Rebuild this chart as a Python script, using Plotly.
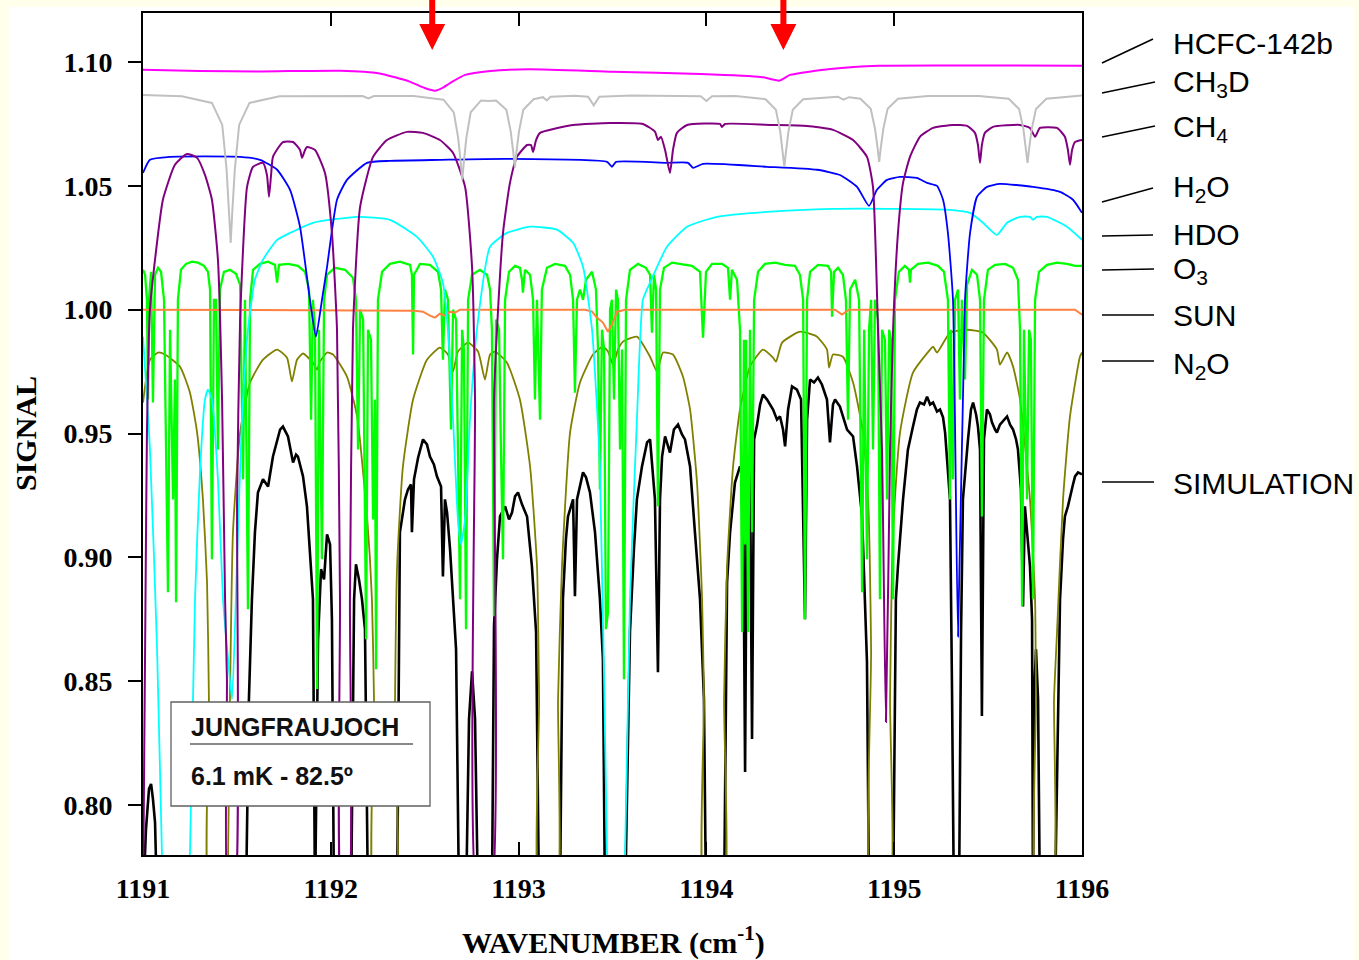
import plotly.graph_objects as go

# ---------------- data (wavenumber cm-1, signal) ----------------
X_TICKS = [1191, 1192, 1193, 1194, 1195, 1196]
Y_TICKS = [0.80, 0.85, 0.90, 0.95, 1.00, 1.05, 1.10]
ARROW_WN = [1192.54, 1194.41]

HCFC142B = [(1191.000,1.0969),(1191.300,1.0964),(1191.630,1.0962),(1192.050,1.0965),(1192.260,1.0954),
            (1192.420,1.0921),(1192.500,1.0895),(1192.555,1.0884),(1192.600,1.0898),(1192.635,1.0915),
            (1192.715,1.0948),(1192.850,1.0964),(1193.060,1.0971),(1193.500,1.0961),(1193.970,1.0952),
            (1194.290,1.0940),(1194.390,1.0925),(1194.445,1.0948),(1194.660,1.0972),(1194.920,1.0985),
            (1195.500,1.0986),(1196.000,1.0985)]

CH3D = [(1191.000,1.0867),(1191.207,1.0862),(1191.367,1.0835),(1191.422,1.0746),(1191.445,1.0567),
        (1191.459,1.0389),(1191.467,1.0270),(1191.475,1.0389),(1191.489,1.0567),(1191.512,1.0746),
        (1191.567,1.0835),(1191.727,1.0862),(1192.170,1.0863),(1192.200,1.0853),(1192.230,1.0863),
        (1192.440,1.0863),(1192.600,1.0848),(1192.655,1.0797),(1192.678,1.0695),(1192.692,1.0593),
        (1192.700,1.0525),(1192.708,1.0593),(1192.722,1.0695),(1192.745,1.0797),(1192.800,1.0845),
        (1192.840,1.0843),(1192.880,1.0845),(1192.935,1.0807),(1192.958,1.0720),(1192.972,1.0633),
        (1192.980,1.0575),(1192.988,1.0633),(1193.002,1.0720),(1193.025,1.0807),(1193.080,1.0850),
        (1193.130,1.0858),(1193.150,1.0845),(1193.170,1.0860),(1193.300,1.0864),(1193.370,1.0860),
        (1193.400,1.0825),(1193.430,1.0860),(1193.600,1.0865),(1193.970,1.0862),(1194.000,1.0843),
        (1194.030,1.0862),(1194.155,1.0863),(1194.315,1.0850),(1194.370,1.0807),(1194.393,1.0720),
        (1194.407,1.0633),(1194.415,1.0577),(1194.423,1.0633),(1194.437,1.0720),(1194.460,1.0807),
        (1194.515,1.0850),(1194.700,1.0860),(1194.730,1.0848),(1194.760,1.0858),(1194.820,1.0852),
        (1194.875,1.0811),(1194.898,1.0730),(1194.912,1.0650),(1194.920,1.0597),(1194.928,1.0650),
        (1194.942,1.0730),(1194.965,1.0811),(1195.020,1.0852),(1195.180,1.0863),(1195.450,1.0863),
        (1195.610,1.0852),(1195.665,1.0810),(1195.688,1.0729),(1195.702,1.0648),(1195.710,1.0593),
        (1195.718,1.0648),(1195.732,1.0729),(1195.755,1.0810),(1195.810,1.0852),(1195.970,1.0863),
        (1196.000,1.0865)]

CH4 = [(1191.000,0.7600),(1191.013,0.8800),(1191.021,0.9500),(1191.037,1.0000),(1191.064,1.0202),
       (1191.106,1.0444),(1191.170,1.0585),(1191.234,1.0629),(1191.288,1.0613),(1191.330,1.0544),
       (1191.367,1.0444),(1191.399,1.0202),(1191.421,0.9637),(1191.437,0.8831),(1191.447,0.8508),
       (1191.455,0.7600),(1191.485,0.7600),(1191.501,0.9234),(1191.517,0.9960),(1191.554,1.0496),
       (1191.586,1.0577),(1191.639,1.0593),(1191.660,1.0544),(1191.671,1.0456),(1191.682,1.0544),
       (1191.692,1.0617),(1191.745,1.0677),(1191.799,1.0677),(1191.836,1.0645),(1191.847,1.0613),
       (1191.863,1.0645),(1191.873,1.0657),(1191.916,1.0645),(1191.969,1.0552),(1192.006,1.0310),
       (1192.033,0.9919),(1192.049,0.8831),(1192.060,0.7600),(1192.092,0.7600),(1192.102,0.8831),
       (1192.118,0.9919),(1192.156,1.0415),(1192.225,1.0617),(1192.299,1.0685),(1192.406,1.0718),
       (1192.491,1.0714),(1192.581,1.0685),(1192.651,1.0633),(1192.715,1.0496),(1192.752,1.0173),
       (1192.768,0.9637),(1192.784,0.7600),(1192.848,0.7600),(1192.869,0.9637),(1192.885,0.9919),
       (1192.917,1.0310),(1192.954,1.0512),(1192.991,1.0617),(1193.045,1.0665),(1193.066,1.0665),
       (1193.077,1.0637),(1193.093,1.0685),(1193.114,1.0714),(1193.290,1.0746),(1193.487,1.0754),
       (1193.662,1.0750),(1193.726,1.0719),(1193.742,1.0685),(1193.758,1.0698),(1193.780,1.0645),
       (1193.806,1.0552),(1193.822,1.0645),(1193.843,1.0714),(1193.897,1.0746),(1194.072,1.0750),
       (1194.083,1.0738),(1194.099,1.0750),(1194.339,1.0746),(1194.536,1.0742),(1194.674,1.0726),
       (1194.781,1.0685),(1194.855,1.0617),(1194.887,1.0496),(1194.914,0.9919),(1194.935,0.9435),
       (1194.956,0.8335),(1194.978,0.9435),(1194.994,0.9919),(1195.020,1.0310),(1195.047,1.0512),
       (1195.084,1.0617),(1195.137,1.0698),(1195.207,1.0734),(1195.313,1.0746),(1195.388,1.0742),
       (1195.430,1.0714),(1195.446,1.0665),(1195.457,1.0593),(1195.467,1.0665),(1195.483,1.0714),
       (1195.526,1.0738),(1195.670,1.0746),(1195.723,1.0734),(1195.750,1.0698),(1195.776,1.0734),
       (1195.867,1.0734),(1195.909,1.0698),(1195.925,1.0645),(1195.936,1.0585),(1195.947,1.0645),
       (1195.963,1.0677),(1196.000,1.0685)]

H2O = [(1191.000,1.0552),(1191.037,1.0605),(1191.144,1.0617),(1191.517,1.0617),(1191.623,1.0605),
       (1191.714,1.0565),(1191.783,1.0484),(1191.836,1.0335),(1191.889,1.0040),(1191.921,0.9891),
       (1191.953,1.0040),(1191.980,1.0173),(1192.033,1.0444),(1192.086,1.0524),(1192.193,1.0593),
       (1192.315,1.0601),(1192.581,1.0605),(1192.938,1.0609),(1193.471,1.0597),(1193.497,1.0577),
       (1193.519,1.0597),(1193.790,1.0593),(1193.902,1.0593),(1193.929,1.0573),(1193.982,1.0589),
       (1194.323,1.0577),(1194.589,1.0565),(1194.711,1.0544),(1194.802,1.0496),(1194.866,1.0419),
       (1194.908,1.0484),(1194.962,1.0524),(1195.031,1.0536),(1195.121,1.0532),(1195.175,1.0512),
       (1195.228,1.0500),(1195.260,1.0444),(1195.286,1.0310),(1195.313,1.0040),(1195.340,0.8680),
       (1195.377,1.0040),(1195.404,1.0310),(1195.441,1.0456),(1195.494,1.0496),(1195.563,1.0508),
       (1195.739,1.0496),(1195.883,1.0476),(1195.952,1.0444),(1196.000,1.0391)]

HDO = [(1191.000,0.9891),(1191.037,0.9435),(1191.075,0.8629),(1191.101,0.7800),(1191.110,0.7600),
       (1191.240,0.7600),(1191.250,0.7800),(1191.277,0.8831),(1191.304,0.9355),(1191.330,0.9637),
       (1191.346,0.9677),(1191.367,0.9637),(1191.399,0.9315),(1191.426,0.8831),(1191.453,0.8589),
       (1191.474,0.8427),(1191.501,0.8992),(1191.527,0.9556),(1191.559,0.9919),(1191.596,1.0121),
       (1191.639,1.0202),(1191.714,1.0282),(1191.783,1.0310),(1191.905,1.0351),(1192.140,1.0375),
       (1192.315,1.0363),(1192.459,1.0294),(1192.544,1.0214),(1192.597,1.0109),(1192.624,0.9919),
       (1192.651,0.9556),(1192.677,0.9153),(1192.693,0.9052),(1192.715,0.9153),(1192.741,0.9556),
       (1192.778,0.9919),(1192.848,1.0254),(1192.938,1.0310),(1193.061,1.0335),(1193.204,1.0323),
       (1193.290,1.0270),(1193.343,1.0173),(1193.391,0.9919),(1193.433,0.9367),(1193.471,0.7800),
       (1193.480,0.7600),(1193.555,0.7600),(1193.567,0.7800),(1193.593,0.8831),(1193.630,0.9556),
       (1193.662,1.0040),(1193.700,1.0109),(1193.790,1.0254),(1193.897,1.0335),(1194.056,1.0375),
       (1194.323,1.0395),(1194.674,1.0407),(1195.031,1.0407),(1195.297,1.0403),(1195.404,1.0391),
       (1195.473,1.0351),(1195.547,1.0302),(1195.601,1.0351),(1195.670,1.0375),(1195.723,1.0375),
       (1195.739,1.0363),(1195.760,1.0375),(1195.814,1.0375),(1195.920,1.0335),(1196.000,1.0282)]

O3 = [(1191.000,1.0161),(1191.011,1.0141),(1191.021,1.0040),(1191.027,0.9637),(1191.032,1.0040),
      (1191.043,1.0153),(1191.053,0.9625),(1191.064,1.0141),(1191.080,1.0169),(1191.096,1.0153),
      (1191.112,1.0040),(1191.122,0.9435),(1191.133,0.8859),(1191.144,0.9919),(1191.160,0.9234),
      (1191.170,0.9718),(1191.176,0.8819),(1191.186,1.0040),(1191.202,1.0161),(1191.229,1.0185),
      (1191.261,1.0194),(1191.293,1.0190),(1191.325,1.0177),(1191.346,1.0153),(1191.357,1.0081),
      (1191.367,0.8992),(1191.378,1.0040),(1191.389,1.0040),(1191.399,0.9435),(1191.410,1.0081),
      (1191.431,1.0153),(1191.463,1.0161),(1191.495,1.0145),(1191.517,1.0101),(1191.533,0.9315),
      (1191.543,1.0040),(1191.559,0.8790),(1191.570,1.0040),(1191.586,1.0161),(1191.623,1.0185),
      (1191.666,1.0194),(1191.703,1.0181),(1191.714,1.0109),(1191.724,1.0181),(1191.772,1.0185),
      (1191.825,1.0177),(1191.863,1.0153),(1191.884,1.0081),(1191.895,0.9556),(1191.905,1.0040),
      (1191.916,0.9919),(1191.927,0.8468),(1191.937,0.9919),(1191.953,0.8992),(1191.964,1.0040),
      (1191.980,1.0141),(1192.022,1.0169),(1192.076,1.0161),(1192.118,1.0129),(1192.134,1.0040),
      (1192.145,0.9435),(1192.156,1.0000),(1192.172,0.9960),(1192.188,0.8669),(1192.198,0.9919),
      (1192.214,0.9879),(1192.225,0.9153),(1192.235,0.9637),(1192.241,0.8548),(1192.251,1.0040),
      (1192.273,1.0153),(1192.315,1.0185),(1192.368,1.0194),(1192.422,1.0181),(1192.432,1.0141),
      (1192.438,0.9819),(1192.443,1.0141),(1192.475,1.0185),(1192.528,1.0181),(1192.571,1.0153),
      (1192.587,1.0081),(1192.597,0.9798),(1192.608,1.0081),(1192.624,1.0040),(1192.640,0.9516),
      (1192.651,1.0000),(1192.667,0.9960),(1192.677,0.9435),(1192.688,0.8831),(1192.699,0.9919),
      (1192.709,0.9839),(1192.720,0.8710),(1192.731,1.0040),(1192.752,1.0141),(1192.794,1.0161),
      (1192.832,1.0141),(1192.848,1.0081),(1192.858,0.9919),(1192.869,0.8762),(1192.880,0.9960),
      (1192.896,0.9919),(1192.906,0.9435),(1192.917,0.8992),(1192.928,1.0040),(1192.949,1.0153),
      (1192.981,1.0177),(1193.007,1.0169),(1193.018,1.0121),(1193.023,1.0069),(1193.034,1.0161),
      (1193.061,1.0141),(1193.077,1.0040),(1193.087,0.9637),(1193.098,1.0040),(1193.114,0.9556),
      (1193.124,1.0081),(1193.151,1.0169),(1193.194,1.0185),(1193.247,1.0177),(1193.274,1.0141),
      (1193.290,1.0040),(1193.300,0.9665),(1193.311,1.0040),(1193.327,1.0081),(1193.343,1.0040),
      (1193.359,1.0121),(1193.391,1.0153),(1193.412,1.0081),(1193.423,0.9839),(1193.433,0.9274),
      (1193.444,0.9919),(1193.455,0.9839),(1193.465,0.8710),(1193.476,0.8778),(1193.487,1.0000),
      (1193.497,1.0040),(1193.508,0.9637),(1193.519,1.0081),(1193.529,1.0040),(1193.540,0.9435),
      (1193.551,0.9839),(1193.561,0.8508),(1193.572,1.0040),(1193.593,1.0161),(1193.636,1.0185),
      (1193.678,1.0169),(1193.700,1.0141),(1193.710,0.9907),(1193.721,1.0141),(1193.732,1.0081),
      (1193.742,0.9206),(1193.753,1.0081),(1193.774,1.0169),(1193.817,1.0190),(1193.870,1.0185),
      (1193.923,1.0177),(1193.966,1.0153),(1193.982,0.9887),(1193.998,1.0153),(1194.030,1.0185),
      (1194.083,1.0185),(1194.115,1.0169),(1194.126,1.0040),(1194.136,1.0161),(1194.163,1.0121),
      (1194.179,0.9919),(1194.190,0.8698),(1194.200,0.9879),(1194.206,0.9052),(1194.211,0.9879),
      (1194.222,0.8698),(1194.232,0.9919),(1194.243,0.9101),(1194.254,1.0040),(1194.275,1.0153),
      (1194.312,1.0185),(1194.366,1.0190),(1194.419,1.0181),(1194.472,1.0177),(1194.498,1.0141),
      (1194.515,1.0040),(1194.525,0.8750),(1194.536,1.0040),(1194.552,1.0153),(1194.594,1.0181),
      (1194.647,1.0177),(1194.664,1.0153),(1194.669,0.9972),(1194.680,1.0153),(1194.701,1.0169),
      (1194.727,1.0141),(1194.743,1.0040),(1194.754,0.9556),(1194.765,1.0081),(1194.792,1.0121),
      (1194.813,1.0040),(1194.829,0.8859),(1194.840,0.9919),(1194.855,0.8992),(1194.866,0.9919),
      (1194.877,1.0040),(1194.887,0.9435),(1194.898,1.0040),(1194.914,0.9960),(1194.924,0.8831),
      (1194.935,0.9919),(1194.951,0.9879),(1194.962,0.9234),(1194.973,0.9919),(1194.983,0.9879),
      (1194.994,0.8831),(1195.004,1.0040),(1195.025,1.0153),(1195.057,1.0177),(1195.079,1.0161),
      (1195.084,1.0109),(1195.089,1.0161),(1195.127,1.0185),(1195.180,1.0190),(1195.233,1.0177),
      (1195.265,1.0153),(1195.286,1.0040),(1195.297,0.9234),(1195.302,0.9919),(1195.313,0.9315),
      (1195.324,1.0040),(1195.340,1.0081),(1195.350,0.9637),(1195.361,1.0040),(1195.377,0.9718),
      (1195.388,1.0101),(1195.414,1.0161),(1195.441,1.0141),(1195.457,1.0040),(1195.467,0.9165),
      (1195.478,1.0040),(1195.499,1.0161),(1195.537,1.0181),(1195.590,1.0185),(1195.633,1.0169),
      (1195.659,1.0121),(1195.670,0.9919),(1195.681,0.8802),(1195.691,0.9919),(1195.707,0.9234),
      (1195.718,0.9919),(1195.728,0.9879),(1195.739,0.8831),(1195.750,1.0040),(1195.771,1.0153),
      (1195.814,1.0181),(1195.867,1.0190),(1195.920,1.0185),(1195.963,1.0177),(1196.000,1.0177)]

SUN = [(1191.000,1.0000),(1192.448,0.9996),(1192.491,0.9992),(1192.528,0.9976),(1192.555,0.9968),
       (1192.581,0.9984),(1192.608,0.9976),(1192.635,0.9992),(1192.661,0.9988),(1192.688,1.0000),
       (1193.354,1.0000),(1193.391,0.9992),(1193.417,0.9968),(1193.449,0.9948),(1193.476,0.9911),
       (1193.497,0.9940),(1193.524,0.9992),(1193.567,1.0000),(1194.685,1.0000),(1194.722,0.9980),
       (1194.759,1.0000),(1195.963,1.0000),(1196.000,0.9980)]

N2O = [(1191.000,0.9625),(1191.037,0.9798),(1191.080,0.9827),(1191.117,0.9819),(1191.197,0.9770),
       (1191.250,0.9665),(1191.288,0.9504),(1191.319,0.9234),(1191.341,0.8899),(1191.351,0.8427),
       (1191.357,0.7600),(1191.442,0.7600),(1191.453,0.7800),(1191.463,0.8427),(1191.479,0.9101),
       (1191.517,0.9504),(1191.570,0.9706),(1191.639,0.9798),(1191.714,0.9839),(1191.767,0.9806),
       (1191.793,0.9710),(1191.820,0.9798),(1191.852,0.9823),(1191.905,0.9786),(1191.927,0.9758),
       (1191.942,0.9790),(1191.980,0.9827),(1192.012,0.9819),(1192.086,0.9730),(1192.140,0.9569),
       (1192.193,0.9165),(1192.219,0.8831),(1192.230,0.8427),(1192.235,0.7600),(1192.337,0.7600),
       (1192.342,0.8427),(1192.353,0.8964),(1192.384,0.9367),(1192.438,0.9637),(1192.512,0.9798),
       (1192.581,0.9847),(1192.624,0.9819),(1192.651,0.9750),(1192.677,0.9831),(1192.731,0.9867),
       (1192.784,0.9831),(1192.821,0.9718),(1192.848,0.9819),(1192.874,0.9831),(1192.938,0.9786),
       (1193.007,0.9637),(1193.061,0.9367),(1193.098,0.8964),(1193.109,0.8427),(1193.114,0.7600),
       (1193.199,0.7600),(1193.210,0.8427),(1193.231,0.8964),(1193.274,0.9504),(1193.327,0.9706),
       (1193.396,0.9819),(1193.449,0.9851),(1193.476,0.9831),(1193.503,0.9778),(1193.529,0.9839),
       (1193.556,0.9871),(1193.630,0.9891),(1193.700,0.9810),(1193.737,0.9750),(1193.769,0.9827),
       (1193.822,0.9819),(1193.875,0.9730),(1193.913,0.9597),(1193.950,0.9302),(1193.977,0.8831),
       (1193.987,0.8427),(1193.993,0.7600),(1194.088,0.7600),(1194.094,0.8427),(1194.110,0.8964),
       (1194.142,0.9367),(1194.179,0.9597),(1194.232,0.9770),(1194.301,0.9839),(1194.355,0.9806),
       (1194.371,0.9790),(1194.403,0.9867),(1194.498,0.9911),(1194.589,0.9891),(1194.642,0.9839),
       (1194.653,0.9766),(1194.674,0.9819),(1194.727,0.9810),(1194.781,0.9706),(1194.834,0.9504),
       (1194.861,0.9234),(1194.877,0.8629),(1194.882,0.7600),(1194.973,0.7600),(1194.978,0.8427),
       (1194.994,0.9101),(1195.031,0.9504),(1195.100,0.9746),(1195.191,0.9839),(1195.207,0.9851),
       (1195.228,0.9827),(1195.297,0.9907),(1195.388,0.9919),(1195.473,0.9907),(1195.547,0.9839),
       (1195.563,0.9778),(1195.601,0.9827),(1195.633,0.9770),(1195.670,0.9637),(1195.723,0.9234),
       (1195.750,0.8831),(1195.755,0.8427),(1195.760,0.7600),(1195.840,0.7600),(1195.851,0.8427),
       (1195.867,0.8698),(1195.899,0.9234),(1195.936,0.9569),(1195.989,0.9810),(1196.000,0.9827)]

SIMULATION = [(1191.000,0.7600),(1191.016,0.7903),(1191.032,0.8065),(1191.043,0.8085),(1191.053,0.8024),
              (1191.064,0.7931),(1191.075,0.7600),(1191.548,0.7600),(1191.564,0.8427),(1191.580,0.8831),
              (1191.596,0.9101),(1191.612,0.9262),(1191.639,0.9315),(1191.666,0.9286),(1191.692,0.9407),
              (1191.730,0.9516),(1191.745,0.9528),(1191.761,0.9504),(1191.772,0.9488),(1191.799,0.9383),
              (1191.815,0.9415),(1191.825,0.9407),(1191.852,0.9327),(1191.873,0.9206),(1191.889,0.9032),
              (1191.905,0.8831),(1191.916,0.7600),(1191.932,0.8669),(1191.948,0.8952),(1191.964,0.8911),
              (1191.980,0.9093),(1191.996,0.9052),(1192.006,0.8750),(1192.017,0.7600),(1192.108,0.7600),
              (1192.124,0.8831),(1192.134,0.8972),(1192.150,0.8911),(1192.166,0.8831),(1192.182,0.8710),
              (1192.198,0.7600),(1192.353,0.7600),(1192.368,0.9101),(1192.395,0.9234),(1192.411,0.9274),
              (1192.427,0.9294),(1192.432,0.9101),(1192.443,0.9315),(1192.465,0.9403),(1192.491,0.9476),
              (1192.512,0.9456),(1192.528,0.9407),(1192.549,0.9375),(1192.565,0.9327),(1192.587,0.9286),
              (1192.597,0.8923),(1192.608,0.9234),(1192.619,0.9181),(1192.635,0.9032),(1192.651,0.8831),
              (1192.667,0.8629),(1192.683,0.7600),(1192.720,0.7600),(1192.736,0.8347),(1192.752,0.8540),
              (1192.768,0.8347),(1192.784,0.7600),(1192.858,0.7600),(1192.869,0.8722),(1192.885,0.8992),
              (1192.901,0.9165),(1192.928,0.9206),(1192.949,0.9153),(1192.965,0.9181),(1192.981,0.9246),
              (1192.997,0.9262),(1193.018,0.9214),(1193.045,0.9165),(1193.071,0.8964),(1193.093,0.8698),
              (1193.109,0.7600),(1193.220,0.7600),(1193.236,0.8831),(1193.252,0.9073),(1193.263,0.9165),
              (1193.290,0.9234),(1193.300,0.8843),(1193.311,0.9234),(1193.327,0.9286),(1193.343,0.9343),
              (1193.359,0.9323),(1193.380,0.9262),(1193.407,0.9101),(1193.433,0.8831),(1193.449,0.8589),
              (1193.460,0.7600),(1193.567,0.7600),(1193.593,0.8698),(1193.614,0.9032),(1193.630,0.9234),
              (1193.657,0.9367),(1193.684,0.9464),(1193.700,0.9476),(1193.716,0.9315),(1193.726,0.9234),
              (1193.742,0.8536),(1193.753,0.9234),(1193.764,0.9407),(1193.780,0.9488),(1193.806,0.9423),
              (1193.827,0.9516),(1193.849,0.9536),(1193.870,0.9496),(1193.886,0.9476),(1193.913,0.9367),
              (1193.939,0.9101),(1193.966,0.8831),(1193.987,0.8427),(1193.998,0.7600),(1194.094,0.7600),
              (1194.110,0.8899),(1194.126,0.9101),(1194.142,0.9234),(1194.152,0.9302),(1194.179,0.9367),
              (1194.195,0.9335),(1194.206,0.8133),(1194.216,0.9383),(1194.232,0.9395),(1194.243,0.8266),
              (1194.254,0.9476),(1194.270,0.9536),(1194.286,0.9617),(1194.301,0.9657),(1194.323,0.9637),
              (1194.339,0.9617),(1194.355,0.9597),(1194.376,0.9556),(1194.392,0.9569),(1194.408,0.9516),
              (1194.419,0.9448),(1194.435,0.9597),(1194.456,0.9690),(1194.482,0.9677),(1194.504,0.9637),
              (1194.525,0.8750),(1194.536,0.9556),(1194.552,0.9718),(1194.573,0.9706),(1194.594,0.9726),
              (1194.615,0.9698),(1194.642,0.9637),(1194.658,0.9464),(1194.674,0.9617),(1194.685,0.9637),
              (1194.711,0.9609),(1194.733,0.9556),(1194.749,0.9516),(1194.781,0.9488),(1194.802,0.9367),
              (1194.829,0.9165),(1194.845,0.8831),(1194.855,0.8577),(1194.866,0.7600),(1194.994,0.7600),
              (1195.009,0.8831),(1195.020,0.8964),(1195.047,0.9234),(1195.073,0.9435),(1195.100,0.9528),
              (1195.121,0.9597),(1195.137,0.9625),(1195.159,0.9617),(1195.175,0.9649),(1195.191,0.9617),
              (1195.207,0.9625),(1195.228,0.9589),(1195.244,0.9597),(1195.260,0.9565),(1195.271,0.9504),
              (1195.286,0.9355),(1195.297,0.9234),(1195.308,0.8456),(1195.318,0.7600),(1195.345,0.7600),
              (1195.356,0.8698),(1195.366,0.9234),(1195.382,0.9395),(1195.393,0.9476),(1195.409,0.9597),
              (1195.420,0.9625),(1195.436,0.9577),(1195.446,0.9528),(1195.457,0.9435),(1195.467,0.8359),
              (1195.478,0.9476),(1195.494,0.9597),(1195.510,0.9577),(1195.521,0.9544),(1195.537,0.9516),
              (1195.547,0.9504),(1195.563,0.9536),(1195.585,0.9556),(1195.601,0.9569),(1195.617,0.9536),
              (1195.633,0.9516),(1195.649,0.9476),(1195.659,0.9435),(1195.675,0.9274),(1195.686,0.8802),
              (1195.696,0.9206),(1195.712,0.9073),(1195.723,0.8964),(1195.734,0.8750),(1195.739,0.7600),
              (1195.744,0.8427),(1195.755,0.8629),(1195.766,0.8427),(1195.776,0.7600),(1195.856,0.7600),
              (1195.872,0.8427),(1195.883,0.8831),(1195.899,0.9073),(1195.909,0.9165),(1195.925,0.9206),
              (1195.936,0.9246),(1195.952,0.9294),(1195.963,0.9327),(1195.979,0.9343),(1196.000,0.9335)]

# (label, data, colour, width, shape) in drawing order (bottom first)
SERIES = [
    ("SIMULATION", SIMULATION, "#000000", 2.6, "linear"),
    ("N2O", N2O, "#808000", 1.8, "spline"),
    ("O3", O3, "#00FF00", 2.3, "linear"),
    ("SUN", SUN, "#FF8040", 2.0, "linear"),
    ("HDO", HDO, "#00FFFF", 1.8, "spline"),
    ("H2O", H2O, "#0000FF", 1.8, "spline"),
    ("CH4", CH4, "#800080", 2.0, "spline"),
    ("CH3D", CH3D, "#C0C0C0", 2.0, "linear"),
    ("HCFC-142b", HCFC142B, "#FF00FF", 2.0, "spline"),
]

LEGEND_LABELS = ["HCFC-142b", "CH<sub>3</sub>D", "CH<sub>4</sub>", "H<sub>2</sub>O", "HDO",
                 "O<sub>3</sub>", "SUN", "N<sub>2</sub>O", "SIMULATION"]

# ---------------- layout geometry (pixels) ----------------
L, T, W, H = 143, 13, 939, 842
FIG_W, FIG_H = 1359, 960


def px(x):
    return (x - L) / W


def py(y):
    return 1 - (y - T) / H


fig = go.Figure()
for name, data, color, width, shape in SERIES:
    xs = [p[0] for p in data]
    ys = [p[1] for p in data]
    line = dict(color=color, width=width, shape=shape)
    if shape == "spline":
        line["smoothing"] = 0.5
    fig.add_trace(go.Scatter(x=xs, y=ys, mode="lines", name=name, line=line,
                             hoverinfo="skip"))

shapes = []
# white page area over the cream border
shapes.append(dict(type="rect", xref="paper", yref="paper", layer="below",
                   x0=px(9), x1=px(1354), y0=py(962), y1=py(7),
                   fillcolor="white", line=dict(width=0)))

# legend leader lines and labels
leader = [((1102, 63), (1153, 39)), ((1102, 93), (1155, 82)), ((1102, 137), (1155, 126)),
          ((1102, 202), (1153, 188)), ((1102, 236), (1153, 235)), ((1102, 270), (1154, 269)),
          ((1102, 315), (1154, 315)), ((1102, 361), (1154, 361)), ((1102, 482), (1154, 482))]
label_y = [43, 83, 128, 188, 234, 270, 315, 365, 483]
annotations = []
for (a, b), lab, ly in zip(leader, LEGEND_LABELS, label_y):
    shapes.append(dict(type="line", xref="paper", yref="paper",
                       x0=px(a[0]), y0=py(a[1]), x1=px(b[0]), y1=py(b[1]),
                       line=dict(color="black", width=1.5)))
    annotations.append(dict(text=lab, xref="paper", yref="paper", x=px(1171), y=py(ly),
                            xanchor="left", yanchor="middle", showarrow=False,
                            font=dict(family="Liberation Sans, Arial", size=30, color="black")))

# station box
shapes.append(dict(type="rect", xref="paper", yref="paper", layer="above",
                   x0=px(171), x1=px(430), y0=py(806), y1=py(702),
                   fillcolor="white", line=dict(color="#606060", width=1.3)))
shapes.append(dict(type="line", xref="paper", yref="paper", layer="above",
                   x0=px(190), x1=px(413), y0=py(744), y1=py(744),
                   line=dict(color="#606060", width=1.3)))
annotations.append(dict(text="JUNGFRAUJOCH", xref="paper", yref="paper", x=px(189), y=py(727),
                        xanchor="left", yanchor="middle", showarrow=False,
                        font=dict(family="Liberation Sans, Arial", size=25, color="#111111",
                                  weight="bold")))
annotations.append(dict(text="6.1 mK - 82.5º", xref="paper", yref="paper", x=px(189), y=py(776),
                        xanchor="left", yanchor="middle", showarrow=False,
                        font=dict(family="Liberation Sans, Arial", size=25, color="#111111",
                                  weight="bold")))

# red arrows marking HCFC-142b features
half_shaft, half_head = 0.016, 0.069
y_top, y_head, y_tip = py(0), py(24), py(50)
for wn in ARROW_WN:
    path = (f"M {wn - half_shaft},{y_top} L {wn + half_shaft},{y_top} L {wn + half_shaft},{y_head} "
            f"L {wn + half_head},{y_head} L {wn},{y_tip} L {wn - half_head},{y_head} "
            f"L {wn - half_shaft},{y_head} Z")
    shapes.append(dict(type="path", xref="x", yref="paper", path=path, layer="above",
                       fillcolor="#FF0000", line=dict(width=0)))

# axis titles
serif_bold = dict(family="Liberation Serif, Times New Roman", size=30, color="black", weight="bold")
annotations.append(dict(text="SIGNAL", xref="paper", yref="paper", x=px(25), y=py(434),
                        textangle=-90, xanchor="center", yanchor="middle", showarrow=False,
                        font=serif_bold))
annotations.append(dict(text="WAVENUMBER (cm<sup>-1</sup>)", xref="paper", yref="paper",
                        x=px(613), y=py(941), xanchor="center", yanchor="middle",
                        showarrow=False, font=serif_bold))

tick_font = dict(family="Liberation Serif, Times New Roman", size=28, color="black", weight="bold")
fig.update_layout(
    width=FIG_W, height=FIG_H,
    margin=dict(l=L, r=FIG_W - L - W, t=T, b=FIG_H - T - H, pad=0),
    paper_bgcolor="#FFFFEC", plot_bgcolor="white",
    showlegend=False,
    shapes=shapes, annotations=annotations,
    xaxis=dict(range=[1191, 1196], tickvals=X_TICKS, ticktext=[str(v) for v in X_TICKS],
               ticks="inside", ticklen=13, tickwidth=2, tickcolor="black",
               showline=True, linecolor="black", linewidth=2, mirror="ticks",
               showgrid=False, zeroline=False, tickfont=tick_font, ticklabelstandoff=7),
    yaxis=dict(range=[0.7798, 1.1198], tickvals=Y_TICKS, ticktext=[f"{v:.2f}" for v in Y_TICKS],
               ticks="outside", ticklen=13, tickwidth=2, tickcolor="black",
               showline=True, linecolor="black", linewidth=2, mirror=True,
               showgrid=False, zeroline=False, tickfont=tick_font, ticklabelstandoff=10),
)

fig.write_html("out.html")
